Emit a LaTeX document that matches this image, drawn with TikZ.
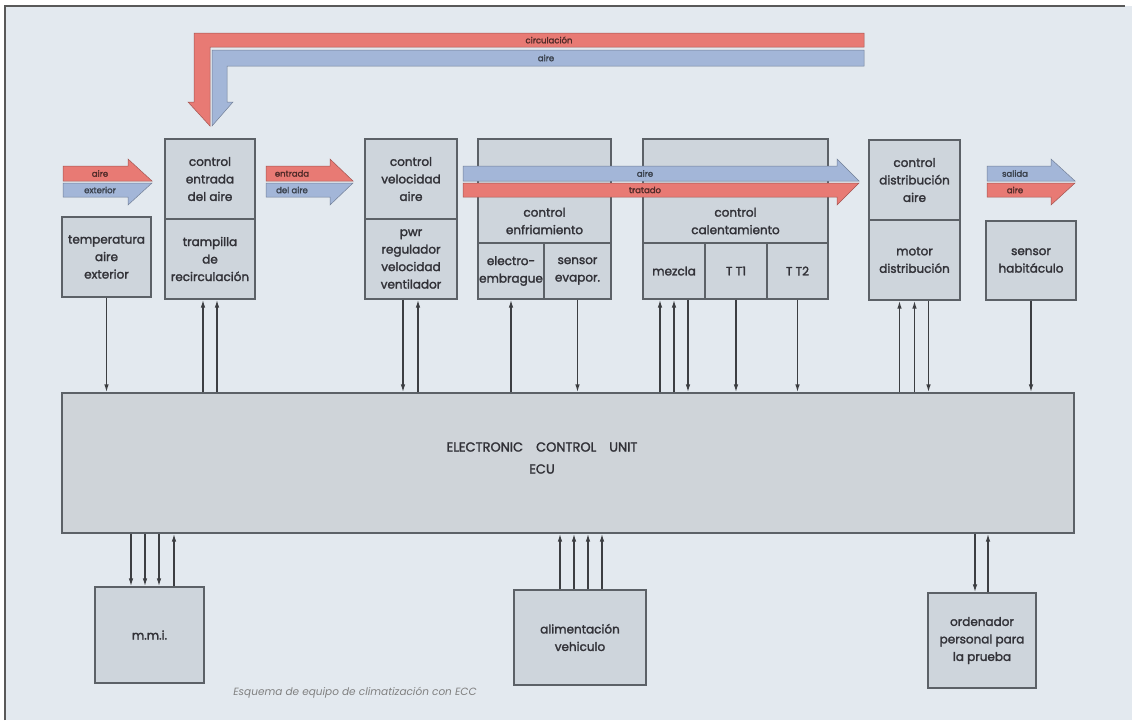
\documentclass[tikz,border=0pt]{standalone}
\usepackage{fontspec}
\setmainfont{Poppins}
\newfontfamily\boxfont{Poppins}[FakeBold=2]
\usetikzlibrary{arrows.meta,calc}

\definecolor{bgc}{RGB}{227,233,239}
\definecolor{boxc}{RGB}{206,213,220}
\definecolor{ecuc}{RGB}{207,212,217}
\definecolor{edgec}{RGB}{92,97,103}
\definecolor{linec}{RGB}{60,62,66}
\definecolor{txtc}{RGB}{50,50,56}
\definecolor{redb}{RGB}{232,122,116}
\definecolor{blueb}{RGB}{163,182,216}

\tikzset{
  blk/.style={draw=edgec, line width=1.3pt, fill=boxc, text=txtc, align=center,
    inner sep=1pt, font=\boxfont\fontsize{12}{17.5}\selectfont},
  sig/.style={draw=linec, line width=1.4pt, -{Latex[length=8pt,width=4.6pt]}},
  tag/.style={font=\boxfont\fontsize{8.5}{9}\selectfont, inner sep=0pt},
}

\begin{document}
\begin{tikzpicture}[x=1pt,y=-1pt]
\useasboundingbox (0,0) rectangle (1132,720);
\fill[white] (0,0) rectangle (1132,720);
\fill[bgc] (5,6) rectangle (1132,720);
\draw[gray!70!black, line width=1.5pt] (5,720) -- (5,6) -- (1125,6);

% upper row of units
\node[blk, minimum width=89, minimum height=80] (temp) at (106.5,257) {temperatura\\aire\\exterior};
\node[blk, minimum width=90, minimum height=80] (ctrlin) at (210,179) {control\\entrada\\del aire};
\node[blk, minimum width=90, minimum height=80] (tramp) at (210,259) {trampilla\\de\\recirculación};
\node[blk, minimum width=92, minimum height=80] (ctrlvel) at (411,179) {control\\velocidad\\aire};
\node[blk, minimum width=92, minimum height=80] (pwr) at (411,259) {pwr\\regulador\\velocidad\\ventilador};
\node[blk, minimum width=133, minimum height=104] (ctrlenf) at (544.5,191) {};
\node[blk, minimum width=66, minimum height=56] (electro) at (511,271) {electro-\\embrague};
\node[blk, minimum width=67, minimum height=56] (evap) at (577.5,271) {sensor\\evapor.};
\node[blk, minimum width=185, minimum height=104] (ctrlcal) at (735.5,191) {};
\node[blk, minimum width=62, minimum height=56] (mezcla) at (674,271) {mezcla};
\node[blk, minimum width=62, minimum height=56] (tt1) at (736,271) {T T1};
\node[blk, minimum width=61, minimum height=56] (tt2) at (797.5,271) {T T2};
\node[blk, draw=none, fill=none] (enftxt) at (544.5,221) {control\\enfriamiento};
\node[blk, draw=none, fill=none] (caltxt) at (735.5,221) {control\\calentamiento};
\node[blk, minimum width=91, minimum height=80] (ctrldist) at (914.5,180) {control\\distribución\\aire};
\node[blk, minimum width=91, minimum height=80] (motor) at (914.5,260) {motor\\distribución};
\node[blk, minimum width=90, minimum height=79] (hab) at (1031,260.5) {sensor\\habitáculo};

% ECU and lower row
\node[blk, fill=ecuc, minimum width=1012, minimum height=140] (ecu) at (568,463) {};
\node[font=\boxfont\fontsize{13}{22}\selectfont, text=txtc, align=center] (ecutxt) at (542,458) {ELECTRONIC\quad CONTROL\quad UNIT\\ECU};
\node[blk, minimum width=109, minimum height=96] (mmi) at (149.5,635) {m.m.i.};
\node[blk, minimum width=132, minimum height=95] (alim) at (580,637.5) {alimentación\\vehiculo};
\node[blk, minimum width=108, minimum height=95] (pc) at (982,640.5) {ordenador\\personal para\\la prueba};
\node[font=\fontsize{10.5}{12}\selectfont\itshape, text=gray] (cap) at (355,693) {Esquema de equipo de climatización con ECC};

% air flow bands
\filldraw[fill=redb, draw=redb!70!black, line width=0.5pt] (864,33) -- (194,33) -- (194,102) -- (188,102) -- (210,126) -- (210,47) -- (864,47) -- cycle;
\filldraw[fill=blueb, draw=blueb!70!black, line width=0.5pt] (864,50) -- (212,50) -- (212,126) -- (233,102) -- (227,102) -- (227,66) -- (864,66) -- cycle;
\node[tag, text=redb!35!black] (circ) at (549,40) {circulación};
\node[tag, text=blueb!35!black] (circair) at (546,58) {aire};
\foreach \xa/\xh/\xt/\ca/\cb/\ta/\tb/\tx in {63/128/152/redb/blueb/aire/exterior/100,
    266/330/353/redb/blueb/entrada/del aire/292,
    463/837/859/blueb/redb/aire/tratado/645,
    987/1051/1075/blueb/redb/salida/aire/1015} {
  \filldraw[fill=\ca, draw=\ca!70!black, line width=0.5pt] (\xa,166) -- (\xh,166) -- (\xh,159) -- (\xt,181) -- (\xa,181) -- cycle;
  \filldraw[fill=\cb, draw=\cb!70!black, line width=0.5pt] (\xa,183) -- (\xt,183) -- (\xh,205) -- (\xh,197) -- (\xa,197) -- cycle;
  \node[tag, text=\ca!35!black] (up-\tx) at (\tx,173.5) {\ta};
  \node[tag, text=\cb!35!black] (dn-\tx) at (\tx,190) {\tb};
}

% signals to and from the ECU
\foreach \b in {temp,evap,tt1,tt2,hab}
  \draw[sig] (\b.south) -- (\b.south |- ecu.north);
\draw[sig] (electro.south |- ecu.north) -- (electro.south);
\foreach \dx in {-7,7}
  \draw[sig] ($(tramp.south |- ecu.north)+(\dx,0)$) -- ($(tramp.south)+(\dx,0)$);
\draw[sig] ($(pwr.south)+(-8,0)$) -- ($(pwr.south |- ecu.north)+(-8,0)$);
\draw[sig] ($(pwr.south |- ecu.north)+(7,0)$) -- ($(pwr.south)+(7,0)$);
\foreach \dx in {-14,0}
  \draw[sig] ($(mezcla.south |- ecu.north)+(\dx,0)$) -- ($(mezcla.south)+(\dx,0)$);
\draw[sig] ($(mezcla.south)+(14,0)$) -- ($(mezcla.south |- ecu.north)+(14,0)$);
\foreach \dx in {-15,0}
  \draw[sig] ($(motor.south |- ecu.north)+(\dx,0)$) -- ($(motor.south)+(\dx,0)$);
\draw[sig] ($(motor.south)+(14,0)$) -- ($(motor.south |- ecu.north)+(14,0)$);
\foreach \dx in {-18.5,-4.5,9.5}
  \draw[sig] ($(mmi.north |- ecu.south)+(\dx,0)$) -- ($(mmi.north)+(\dx,0)$);
\draw[sig] ($(mmi.north)+(24.5,0)$) -- ($(mmi.north |- ecu.south)+(24.5,0)$);
\foreach \dx in {-20,-6,8,22}
  \draw[sig] ($(alim.north)+(\dx,0)$) -- ($(alim.north |- ecu.south)+(\dx,0)$);
\draw[sig] ($(pc.north |- ecu.south)+(-7,0)$) -- ($(pc.north)+(-7,0)$);
\draw[sig] ($(pc.north)+(6,0)$) -- ($(pc.north |- ecu.south)+(6,0)$);
\end{tikzpicture}
\end{document}
